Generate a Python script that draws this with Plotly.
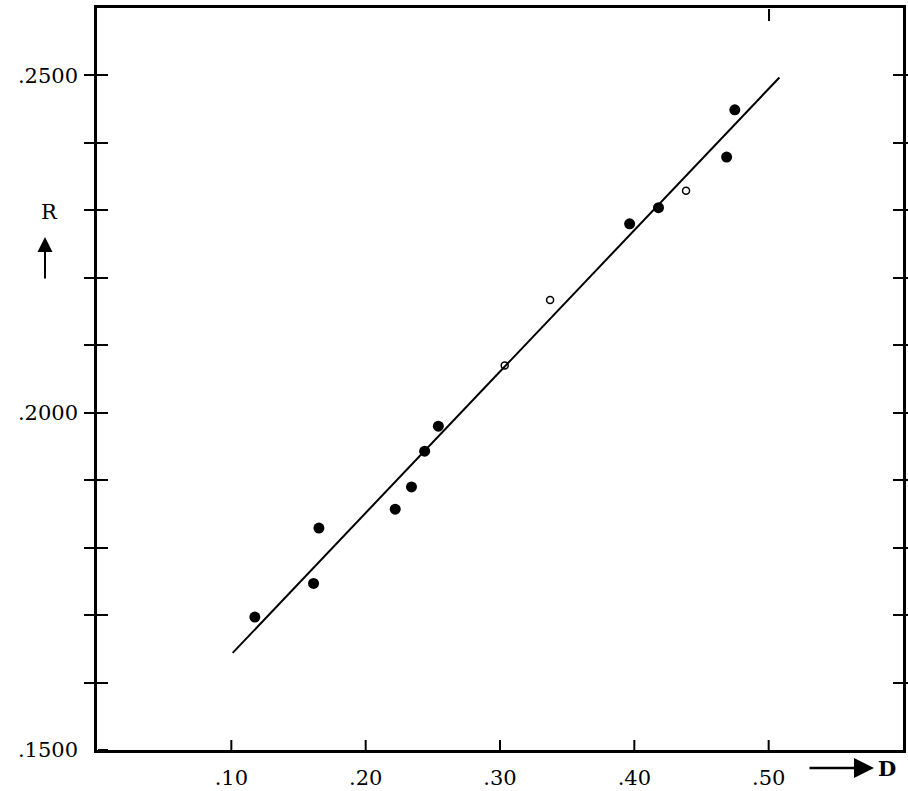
import plotly.graph_objects as go

# Data
filled_D = [0.1175, 0.1612, 0.1652, 0.2220, 0.2341, 0.2439, 0.2541, 0.3965, 0.4180, 0.4687, 0.4748]
filled_R = [0.1697, 0.1747, 0.1829, 0.1857, 0.1890, 0.1943, 0.1980, 0.2280, 0.2304, 0.2379, 0.2449]
open_D = [0.3035, 0.3373, 0.4385]
open_R = [0.2070, 0.2167, 0.2329]
fit_D = [0.101, 0.508]
fit_R = [0.1644, 0.2497]

x_tickvals = [0.10, 0.20, 0.30, 0.40, 0.50]
x_ticktext = [".10", ".20", ".30", ".40", ".50"]
y_tickvals = [0.15, 0.16, 0.17, 0.18, 0.19, 0.20, 0.21, 0.22, 0.23, 0.24, 0.25]
y_ticktext = [".1500", "", "", "", "", ".2000", "", "", "", "", ".2500"]
top_tickvals = [0.50]

x_range = [0, 0.6]
y_range = [0.15, 0.26]

font_family = "DejaVu Serif"
W, H = 908, 791
ML, MR, MT, MB = 97, 5, 8, 41
PW, PH = W - ML - MR, H - MT - MB


def px(xpix):
    return (xpix - ML) / PW


def py(ypix):
    return (H - MB - ypix) / PH


fig = go.Figure()
fig.add_trace(go.Scatter(x=fit_D, y=fit_R, mode="lines", xaxis="x", yaxis="y2",
                         line=dict(color="black", width=2), showlegend=False))
fig.add_trace(go.Scatter(x=filled_D, y=filled_R, mode="markers",
                         marker=dict(color="black", size=11), showlegend=False))
fig.add_trace(go.Scatter(x=open_D, y=open_R, mode="markers",
                         marker=dict(color="white", size=7, line=dict(color="black", width=1.5)),
                         showlegend=False))
fig.add_trace(go.Scatter(x=fit_D, y=fit_R, mode="lines", xaxis="x3", yaxis="y",
                         line=dict(color="rgba(0,0,0,0)", width=0), showlegend=False,
                         hoverinfo="skip"))

fig.update_layout(
    width=W, height=H,
    margin=dict(l=ML, r=MR, t=MT, b=MB, autoexpand=False),
    paper_bgcolor="white", plot_bgcolor="white",
    font=dict(family=font_family, color="black", size=20),
    xaxis=dict(range=x_range, tickvals=x_tickvals, ticktext=x_ticktext, ticks="",
               showline=True, linecolor="black", linewidth=2.5, mirror=True,
               showgrid=False, zeroline=False, tickfont=dict(size=21),
               ticklabelstandoff=7, automargin=False),
    yaxis=dict(range=y_range, tickvals=y_tickvals, ticktext=y_ticktext,
               ticks="inside", ticklen=10, tickwidth=2, tickcolor="black",
               showline=True, linecolor="black", linewidth=2.5, mirror="allticks",
               showgrid=False, zeroline=False, tickfont=dict(size=21),
               ticklabelstandoff=12, automargin=False),
    # left ticks pointing into the plot
    yaxis2=dict(range=y_range, tickvals=y_tickvals, overlaying="y", side="right",
                anchor="free", position=0, ticks="outside", ticklen=10, tickwidth=2,
                tickcolor="black", showticklabels=False, showgrid=False,
                zeroline=False, showline=False, automargin=False),
    # single tick on the top border pointing down
    xaxis3=dict(range=x_range, tickvals=top_tickvals, overlaying="x", side="bottom",
                anchor="free", position=1, ticks="outside", ticklen=12, tickwidth=2,
                tickcolor="black", showticklabels=False, showgrid=False,
                zeroline=False, showline=False, automargin=False),
)

# bottom ticks pointing up into the plot, placed on the x scale at the tick values
for tv in x_tickvals:
    fig.add_shape(type="line", xref="x", yref="y domain", x0=tv, x1=tv,
                  y0=0, y1=10 / PH, line=dict(color="black", width=2))

# Axis names drawn as in the original
fig.add_annotation(xref="paper", yref="paper", x=px(49), y=py(212),
                   xanchor="center", yanchor="middle",
                   text="R", showarrow=False, font=dict(size=21, family=font_family))
fig.add_annotation(xref="paper", yref="paper", x=px(45), y=py(237),
                   ax=0, ay=43, text="", showarrow=True, arrowhead=2, arrowsize=1.5,
                   arrowwidth=2, arrowcolor="black")
fig.add_annotation(xref="paper", yref="paper", x=px(874), y=py(768),
                   ax=-66, ay=0, text="", showarrow=True, arrowhead=2, arrowsize=1.6,
                   arrowwidth=2.5, arrowcolor="black")
fig.add_annotation(xref="paper", yref="paper", x=px(887), y=py(768),
                   xanchor="center", yanchor="middle",
                   text="<b>D</b>", showarrow=False, font=dict(size=21, family=font_family))

fig.write_html("out.html")
